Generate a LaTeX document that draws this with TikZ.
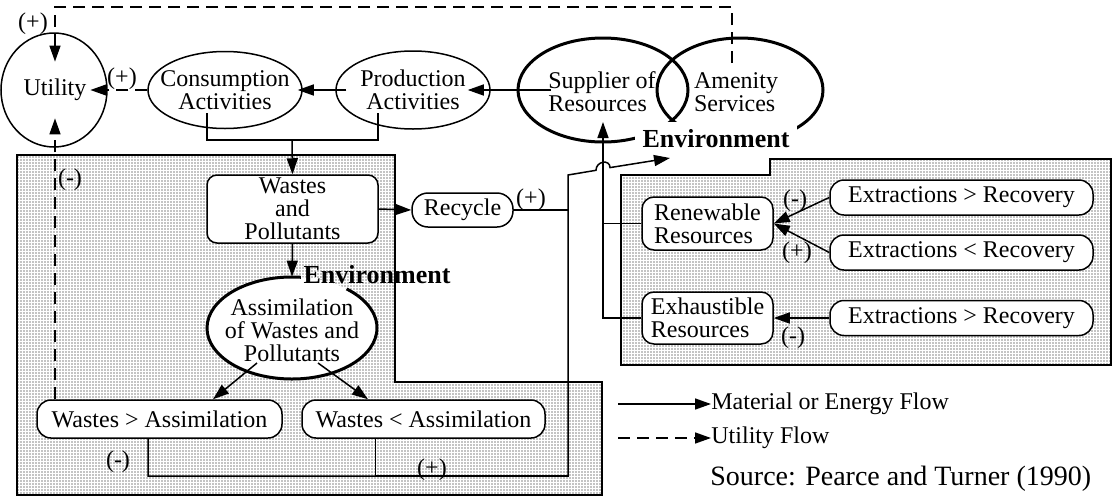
\documentclass[tikz,border=0pt]{standalone}
\usepackage{fontspec}
\setmainfont{Liberation Serif}
\usetikzlibrary{arrows.meta,patterns.meta,shapes.geometric}
\begin{document}
\begin{tikzpicture}[x=0.5pt,y=-0.5pt,
  every node/.style={font=\fontsize{12}{11.5}\selectfont, inner sep=0pt},
  ell/.style={draw, ellipse, line width=0.75pt},
  thickell/.style={draw, ellipse, line width=1.5pt},
  rbox/.style={draw, fill=white, rectangle, rounded corners=#1, line width=0.75pt},
  txt/.style={align=center},
  ltxt/.style={align=left},
  envlab/.style={font=\fontsize{13}{13}\selectfont\bfseries},
  flow/.style={line width=0.75pt, -{Triangle[length=8pt,width=5.5pt]}},
  uflow/.style={flow, dash pattern=on 6pt off 3.5pt},
  link/.style={line width=0.75pt},
  shade/.style={draw, line width=0.6pt, pattern={Dots[distance=1.5pt,radius=0.3pt]}},
]
\useasboundingbox (0,0) rectangle (1115,499);

% shaded regions
\path[shade] (17,155) -- (395,155) -- (395,382) -- (602,382) -- (602,495) -- (17,495) -- cycle;
\path[shade] (770,159) -- (1111,159) -- (1111,365) -- (621,365) -- (621,175) -- (770,175) -- cycle;

% top row
\node[ell, minimum width=53pt, minimum height=57pt] (utilc) at (54,90) {};
\node[minimum width=35pt, minimum height=28pt] (util) at (55,90) {Utility};
\node[ell, minimum width=77pt, minimum height=38.5pt] (cons) at (225,90) {};
\node[txt] (consT) at (cons.center) {Consumption\\Activities};
\node[ell, minimum width=77pt, minimum height=39pt] (prod) at (413,90) {};
\node[txt] (prodT) at (prod.center) {Production\\Activities};
\node[thickell, minimum width=85pt, minimum height=52pt] (sup) at (603,90) {};
\node[ltxt] (supT) at (602,92) {Supplier of\\Resources};
\node[thickell, minimum width=83pt, minimum height=52pt] (amen) at (740,90) {};
\node[ltxt] (amenT) at (736,92) {Amenity\\Services};
\node[envlab, fill=white, inner sep=4pt] (env1) at (716,139) {Environment};

% left region
\node[rbox=5pt, minimum width=85.5pt, minimum height=34pt, font=\fontsize{12}{11.5}\selectfont, align=center] (wap) at (292.5,209) {Wastes\\and\\Pollutants};
\node[rbox=8pt, minimum width=50.5pt, minimum height=17pt] (rec) at (462.5,210) {Recycle};
\node[ellipse, fill=white, minimum width=85pt, minimum height=51pt] (assim) at (292,328) {};
\draw[line width=1.5pt] ([shift={(84:42.5pt and 25.5pt)}]assim.center) arc[start angle=84, end angle=410, x radius=42.5pt, y radius=25.5pt];
\node[txt] (assimT) at (292,330) {Assimilation\\of Wastes and\\Pollutants};
\node[envlab] (env2) at (377,275) {Environment};
\node[rbox=7pt, minimum width=122.5pt, minimum height=19pt] (wgt) at (159.5,419) {Wastes > Assimilation};
\node[rbox=7pt, minimum width=121.5pt, minimum height=19pt] (wlt) at (423.5,419) {Wastes < Assimilation};

% right region
\node[rbox=6pt, minimum width=65.5pt, minimum height=26.5pt, ltxt] (ren) at (707.5,223.5) {Renewable\\Resources};
\node[rbox=6pt, minimum width=65.5pt, minimum height=26pt, ltxt] (exh) at (707.5,318) {Exhaustible\\Resources};
\node[rbox=7pt, minimum width=131.5pt, minimum height=17.5pt] (eg1) at (961.5,197.5) {Extractions > Recovery};
\node[rbox=7pt, minimum width=131.5pt, minimum height=17.5pt] (el) at (961.5,252.5) {Extractions < Recovery};
\node[rbox=7pt, minimum width=131.5pt, minimum height=17.5pt] (eg2) at (961.5,318) {Extractions > Recovery};

% coordinates
\coordinate (consOut) at (207,113);
\coordinate (prodOut) at (378,113);
\coordinate (mid) at (292,140);
\coordinate (amenOut) at (732,63);
\coordinate (topc) at (400,7);
\coordinate (supIn) at (603,122);
\coordinate (jr) at (568,210);
\coordinate (jb) at (568,476);
\coordinate (jt) at (568,175);
\coordinate (envTip) at (670,158);

% connectors
\draw[uflow] (cons.west) -- (util.east);
\draw[uflow] (amenOut) |- (topc) -| (util.north);
\draw[uflow] (util.south |- wgt.north) -- (util.south);
\draw[flow, shorten <=-5.5pt, shorten >=-2.5pt] (prod.west) -- (cons.east);
\draw[flow, shorten <=-17pt, shorten >=-11.5pt] (sup.west) -- (prod.east);
\draw[link] (consOut) |- (mid) -| (prodOut);
\draw[flow] (mid) -- (wap.north);
\draw[flow] (wap.east) -- (rec.west);
\draw[flow] (wap.south) -- (assim.north);
\draw[flow] ([xshift=-17.5pt,yshift=-17.5pt]assim.center) -- ([xshift=26.75pt]wgt.north);
\draw[flow] ([xshift=13pt,yshift=-17.5pt]assim.center) -- ([xshift=-27.75pt]wlt.north);
\draw[link] (rec.east) -- (jr);
\draw[link] ([xshift=-24pt]wlt.south) |- (jb);
\draw[flow] ([xshift=-5.75pt]wgt.south) |- (jb) -- (jt) -- (596,170.3) .. controls (596,161) and (610,159) .. (610,167.6) -- (envTip);
\draw[flow] (exh.west) -| (supIn);
\draw[link] (ren.west) -- (ren.west -| supIn);
\draw[flow] (eg1.west) -- (ren.east);
\draw[flow] (el.west) -- (ren.east);
\draw[flow] (eg2.west) -- (exh.east);

% sign labels
\node (s1) at (33,24) {(+)};
\node (s2) at (122,79) {(+)};
\node (s3) at (70,180) {(-)};
\node (s4) at (531,200) {(+)};
\node (s5) at (118,462) {(-)};
\node (s6) at (432,470) {(+)};
\node (s7) at (795,201) {(-)};
\node (s8) at (797,253) {(+)};
\node (s9) at (793,338) {(-)};

% legend
\coordinate (lg1) at (618,404);
\coordinate (lg2) at (618,438);
\node[anchor=west] (leg1) at (711,404) {Material or Energy Flow};
\node[anchor=west] (leg2) at (711,438) {Utility Flow};
\node[anchor=west, font=\fontsize{14}{14}\selectfont] (src) at (710,479) {Source: Pearce and Turner (1990)};
\draw[flow] (lg1) -- (leg1.west);
\draw[uflow] (lg2) -- (leg2.west);
\end{tikzpicture}
\end{document}
